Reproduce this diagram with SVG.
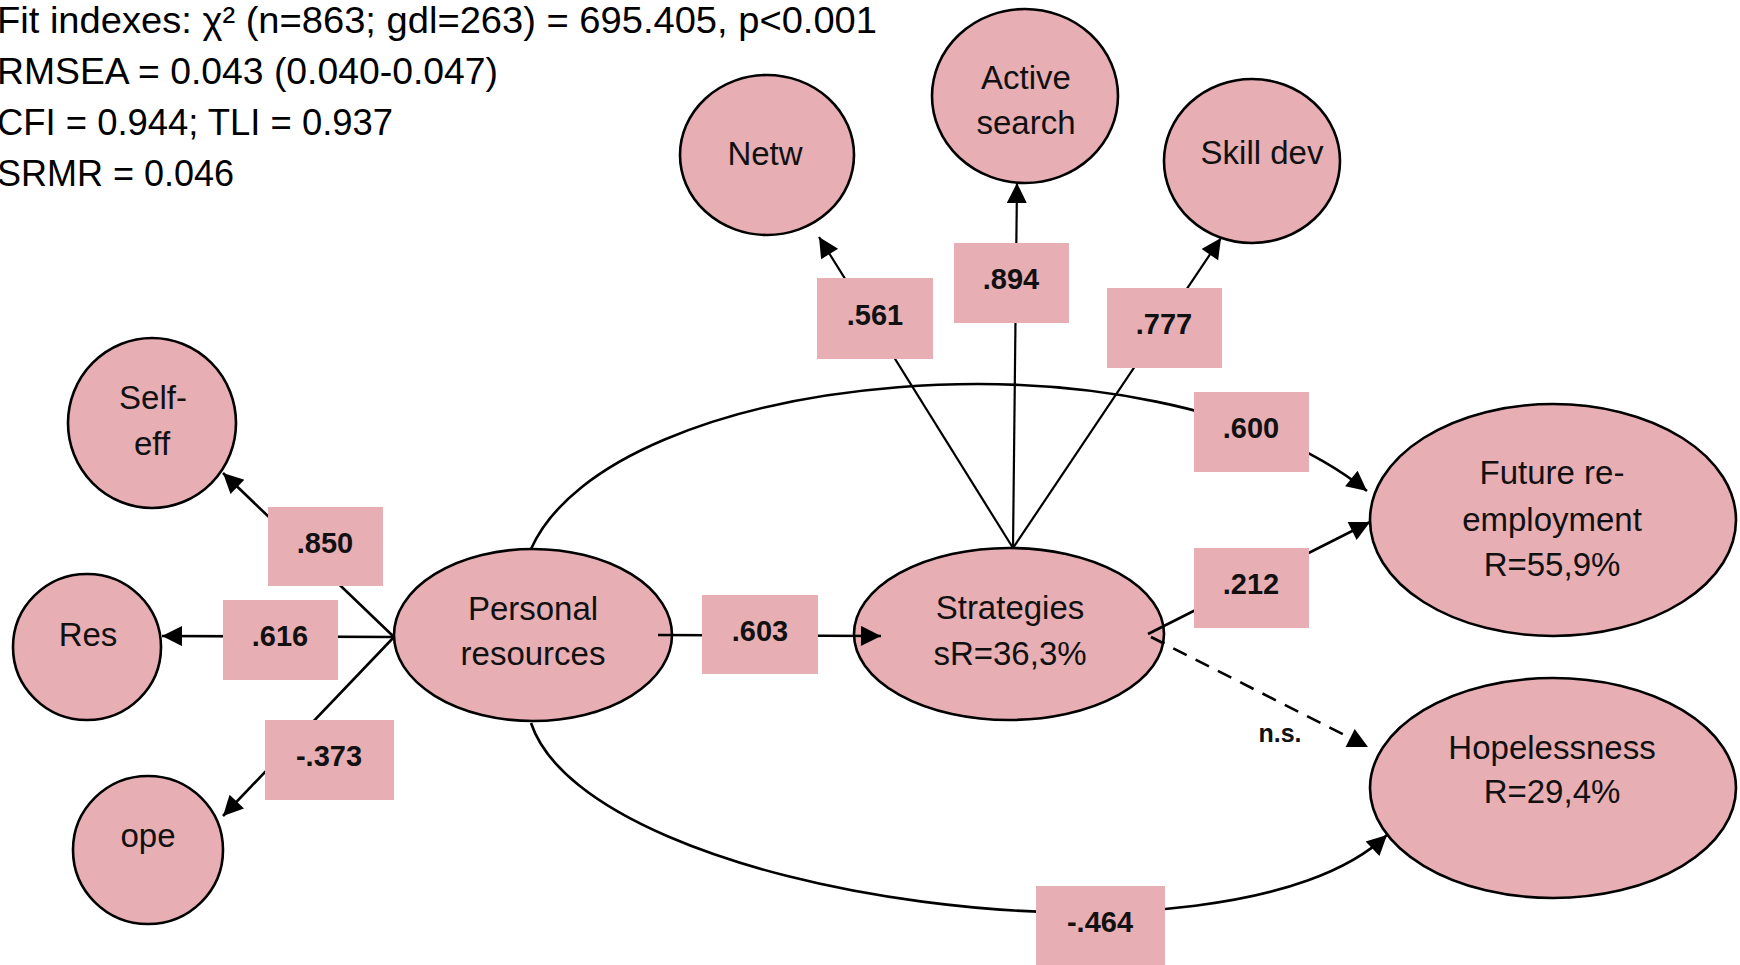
<svg xmlns="http://www.w3.org/2000/svg" width="1740" height="965" viewBox="0 0 1740 965">
  <defs>
    <marker id="arrow" viewBox="0 0 10 10" refX="10" refY="5" markerWidth="23" markerHeight="20" markerUnits="userSpaceOnUse" orient="auto">
      <path d="M0,0 L10,5 L0,10 z" fill="#000"/>
    </marker>
    <style>
      .node ellipse { fill: #E7AEB3; stroke: #000; stroke-width: 2.6; }
      .node text { font-family: "Liberation Sans", Arial, sans-serif; font-size: 33px; fill: #111; text-anchor: middle; }
      .fit { font-family: "Liberation Sans", Arial, sans-serif; font-size: 37px; fill: #000; }
      .edge { fill: none; stroke: #000; stroke-width: 2.6; marker-end: url(#arrow); }
      .thin { stroke-width: 2.2; }
      .dash { stroke-dasharray: 15 10; }
      .lbl rect { fill: #E7AEB3; }
      .lbl text { font-family: "Liberation Sans", Arial, sans-serif; font-size: 29px; font-weight: bold; fill: #111; text-anchor: middle; }
      .ns { font-family: "Liberation Sans", Arial, sans-serif; font-size: 25px; font-weight: bold; fill: #111; text-anchor: middle; }
    </style>
  </defs>
  <rect width="1740" height="965" fill="#fff"/>

  <!-- fit statistics -->
  <g id="fit-indexes">
    <text class="fit" x="-3" y="33" textLength="880" lengthAdjust="spacingAndGlyphs">Fit indexes: χ² (n=863; gdl=263) = 695.405, p&lt;0.001</text>
    <text class="fit" x="-3" y="84" textLength="501" lengthAdjust="spacingAndGlyphs">RMSEA = 0.043 (0.040-0.047)</text>
    <text class="fit" x="-3" y="135" textLength="396" lengthAdjust="spacingAndGlyphs">CFI = 0.944; TLI = 0.937</text>
    <text class="fit" x="-3" y="186" textLength="237" lengthAdjust="spacingAndGlyphs">SRMR = 0.046</text>
  </g>

  <!-- latent variables and indicators -->
  <g id="netw" class="node">
    <ellipse cx="767" cy="155" rx="87" ry="80"/>
    <text x="765" y="165">Netw</text>
  </g>
  <g id="active-search" class="node">
    <ellipse cx="1025" cy="96" rx="93" ry="87"/>
    <text x="1026" y="89">Active</text>
    <text x="1026" y="134">search</text>
  </g>
  <g id="skill-dev" class="node">
    <ellipse cx="1252" cy="161" rx="88" ry="82"/>
    <text x="1262" y="164">Skill dev</text>
  </g>
  <g id="self-eff" class="node">
    <ellipse cx="152" cy="423" rx="84" ry="85"/>
    <text x="153" y="409">Self-</text>
    <text x="152" y="455">eff</text>
  </g>
  <g id="res" class="node">
    <ellipse cx="87" cy="647" rx="74" ry="73"/>
    <text x="88" y="646">Res</text>
  </g>
  <g id="ope" class="node">
    <ellipse cx="148" cy="850" rx="75" ry="74"/>
    <text x="148" y="847">ope</text>
  </g>
  <g id="personal-resources" class="node">
    <ellipse cx="533" cy="635" rx="139" ry="86"/>
    <text x="533" y="620">Personal</text>
    <text x="533" y="665">resources</text>
  </g>
  <g id="strategies" class="node">
    <ellipse cx="1009" cy="634" rx="155" ry="86"/>
    <text x="1010" y="619">Strategies</text>
    <text x="1010" y="665">sR=36,3%</text>
  </g>
  <g id="future-reemployment" class="node">
    <ellipse cx="1553" cy="520" rx="183" ry="116"/>
    <text x="1552" y="484">Future re-</text>
    <text x="1552" y="531">employment</text>
    <text x="1552" y="576">R=55,9%</text>
  </g>
  <g id="hopelessness" class="node">
    <ellipse cx="1553" cy="788" rx="183" ry="110"/>
    <text x="1552" y="759">Hopelessness</text>
    <text x="1552" y="803">R=29,4%</text>
  </g>

  <!-- paths and loadings -->
  <g id="connectors">
    <path class="edge" d="M394,637 L223,473"/>
    <path class="edge" d="M394,637 L162,636"/>
    <path class="edge" d="M394,637 L223,816"/>
    <path class="edge" d="M658,635 L881,636"/>
    <path class="edge thin" d="M1013,548 L819,237"/>
    <path class="edge thin" d="M1013,548 L1017,183"/>
    <path class="edge thin" d="M1013,548 L1221,238"/>
    <path class="edge" d="M1148,634 L1370,522"/>
    <path class="edge dash" d="M1151,637 L1368,747"/>
    <path class="edge" d="M531,549 C612,368 1150,318 1367,491"/>
    <path class="edge" d="M531,723 C590,900 1230,985 1387,835"/>
    <text class="ns" x="1280" y="742">n.s.</text>
  </g>

  <!-- coefficient labels -->
  <g id="labels" class="lbl">
    <rect x="817" y="278" width="116" height="81"/><text x="875" y="325">.561</text>
    <rect x="954" y="243" width="115" height="80"/><text x="1011" y="289">.894</text>
    <rect x="1107" y="288" width="115" height="80"/><text x="1164" y="334">.777</text>
    <rect x="1194" y="392" width="115" height="80"/><text x="1251" y="438">.600</text>
    <rect x="1194" y="548" width="115" height="80"/><text x="1251" y="594">.212</text>
    <rect x="268" y="507" width="115" height="79"/><text x="325" y="553">.850</text>
    <rect x="223" y="600" width="115" height="80"/><text x="280" y="646">.616</text>
    <rect x="265" y="720" width="129" height="80"/><text x="329" y="766">-.373</text>
    <rect x="702" y="595" width="116" height="79"/><text x="760" y="641">.603</text>
    <rect x="1036" y="886" width="129" height="80"/><text x="1100" y="932">-.464</text>
  </g>
</svg>
